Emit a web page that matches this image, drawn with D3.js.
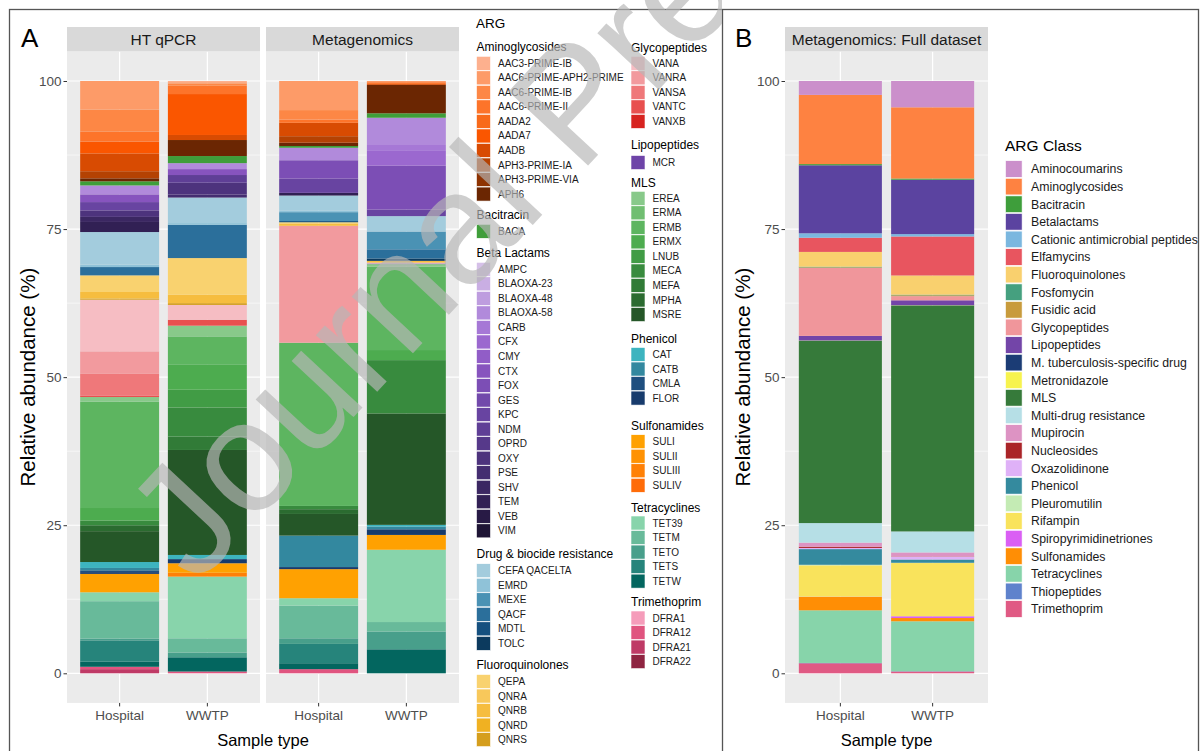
<!DOCTYPE html>
<html>
<head>
<meta charset="utf-8">
<script src="https://cdn.jsdelivr.net/npm/d3@7"></script>
<style>
  body { margin: 0; background: #fff; }
  svg { display: block; font-family: "Liberation Sans", Arial, Helvetica, sans-serif; }
</style>
</head>
<body>
<svg id="chart" width="1200" height="751"></svg>
<script>
// ---------- Gene-level ARG palette (legend order = stacking order, top to bottom) ----------
const aminoglycosideGenes  = ["AAC3-PRIME-IB","AAC6-PRIME-APH2-PRIME","AAC6-PRIME-IB","AAC6-PRIME-II","AADA2","AADA7","AADB","APH3-PRIME-IA","APH3-PRIME-VIA","APH6"];
const aminoglycosideColors = ["#FDB08E","#FD9B68","#FD8745","#FD742A","#F86A1A","#FA5600","#D84B02","#B44203","#8E3302","#6B2602"];
const bacitracinGenes  = ["BACA"];
const bacitracinColors = ["#3F9E3A"];
const betaLactamGenes  = ["AMPC","BLAOXA-23","BLAOXA-48","BLAOXA-58","CARB","CFX","CMY","CTX","FOX","GES","KPC","NDM","OPRD","OXY","PSE","SHV","TEM","VEB","VIM"];
const betaLactamColors = ["#D5C0E8","#C9AEE3","#BE9DDF","#B18ADB","#A678D6","#9B68CF","#915DC7","#8754BE","#7C4EB5","#7249AB","#6844A1","#5F3F96","#56398A","#4D337D","#442D70","#3B2762","#312054","#281A45","#1E1435"];
const drugBiocideGenes  = ["CEFA QACELTA","EMRD","MEXE","QACF","MDTL","TOLC"];
const drugBiocideColors = ["#A3CCDD","#8FC2D8","#4A92B4","#2B6F9B","#15507F","#0C3A5E"];
const fluoroquinoloneGenes  = ["QEPA","QNRA","QNRB","QNRD","QNRS"];
const fluoroquinoloneColors = ["#F9D26F","#F8C85B","#F6BD3F","#F0B122","#D59E1D"];
const glycopeptideGenes  = ["VANA","VANRA","VANSA","VANTC","VANXB"];
const glycopeptideColors = ["#F6BDC3","#F29A9E","#EF787A","#E8504F","#D7231F"];
const lipopeptideGenes  = ["MCR"];
const lipopeptideColors = ["#6E44A8"];
const mlsGenes  = ["EREA","ERMA","ERMB","ERMX","LNUB","MECA","MEFA","MPHA","MSRE"];
const mlsColors = ["#88C98A","#70BE71","#5DB560","#4DAC4F","#419C45","#388B3E","#317B37","#2B6B30","#255728"];
const phenicolGenes  = ["CAT","CATB","CMLA","FLOR"];
const phenicolColors = ["#3DB4BF","#33889F","#1F4F7F","#173B6C"];
const sulfonamideGenes  = ["SULI","SULII","SULIII","SULIV"];
const sulfonamideColors = ["#FFA101","#FF9203","#FF8006","#FF6C09"];
const tetracyclineGenes  = ["TET39","TETM","TETO","TETS","TETW"];
const tetracyclineColors = ["#88D4AB","#68BA9A","#489F8B","#26847B","#03665F"];
const trimethoprimGenes  = ["DFRA1","DFRA12","DFRA21","DFRA22"];
const trimethoprimColors = ["#F59CBA","#E0547F","#BF3A66","#8F2441"];

const sampleTypes = ["Hospital","WWTP"];
const facetNames = ["HT qPCR","Metagenomics"];

// ---------- Relative abundance (%) per gene ----------
const qpcrHospital = [
  ["AAC6-PRIME-APH2-PRIME",4.8],["AAC6-PRIME-IB",3.7],["AAC6-PRIME-II",1.7],["AADA7",2.0],["AADB",3.0],
  ["APH3-PRIME-IA",1.2],["APH6",0.5],["BACA",0.7],["BLAOXA-58",1.5],["CTX",1.3],["KPC",1.4],["OXY",1.1],
  ["SHV",0.85],["TEM",1.7],["CEFA QACELTA",5.5],["EMRD",0.4],["QACF",1.4],["QEPA",2.8],["QNRB",1.1],["QNRS",0.2],
  ["VANA",8.7],["VANRA",3.8],["VANSA",3.7],["VANTC",0.2],["EREA",0.8],["ERMB",17.9],["ERMX",2.1],["MECA",0.8],
  ["MPHA",1.0],["MSRE",5.2],["CAT",1.0],["CATB",0.4],["CMLA",0.3],["FLOR",0.3],["SULI",3.1],["TET39",1.5],
  ["TETM",6.3],["TETO",0.3],["TETS",3.6],["TETW",0.85],["DFRA12",0.4],["DFRA21",0.7]
];
const qpcrWWTP = [
  ["AAC3-PRIME-IB",0.2],["AAC6-PRIME-APH2-PRIME",0.2],["AAC6-PRIME-IB",0.4],["AAC6-PRIME-II",1.4],["AADA7",6.9],
  ["AADB",0.85],["APH6",2.7],["BACA",1.2],["BLAOXA-58",1.0],["CTX",1.0],["NDM",1.3],["OXY",2.0],["PSE",0.5],
  ["CEFA QACELTA",4.3],["EMRD",0.3],["QACF",5.6],["QEPA",6.2],["QNRB",1.4],["QNRS",0.3],["VANA",2.5],["VANTC",1.0],
  ["EREA",1.8],["ERMB",4.8],["ERMX",4.2],["LNUB",3.0],["MECA",4.9],["MEFA",2.25],["MSRE",17.7],["CAT",0.7],
  ["FLOR",0.7],["SULI",1.6],["SULIII",0.65],["TET39",10.4],["TETM",2.4],["TETO",0.8],["TETW",2.4],["DFRA12",0.3]
];
const metaHospital = [
  ["AAC6-PRIME-APH2-PRIME",4.9],["AAC6-PRIME-IB",1.6],["AAC6-PRIME-II",0.55],["AADB",2.25],["APH3-PRIME-IA",1.1],
  ["APH6",0.55],["BACA",0.3],["BLAOXA-58",2.1],["FOX",3.1],["KPC",2.4],["TEM",0.45],["CEFA QACELTA",2.5],
  ["EMRD",0.3],["MEXE",1.5],["MDTL",0.2],["QEPA",0.2],["QNRB",0.4],["VANRA",19.7],["ERMB",27.5],["MECA",0.55],
  ["MPHA",0.8],["MSRE",3.65],["CATB",5.3],["FLOR",0.35],["SULI",4.9],["TET39",1.25],["TETM",5.5],["TETO",0.95],
  ["TETS",3.25],["TETW",1.0],["DFRA12",0.7]
];
const metaWWTP = [
  ["AAC6-PRIME-APH2-PRIME",0.2],["AAC6-PRIME-II",0.3],["AADB",0.15],["APH6",4.8],["BACA",0.75],["BLAOXA-58",4.6],
  ["CARB",1.0],["CFX",2.5],["FOX",7.4],["KPC",1.1],["CEFA QACELTA",2.6],["MEXE",3.0],["QACF",1.55],["TOLC",0.4],
  ["QNRB",0.3],["VANA",0.15],["MCR",0.1],["EREA",0.4],["ERMB",14.1],["ERMX",1.7],["MECA",9.0],["MSRE",18.8],
  ["CAT",0.3],["CATB",0.45],["FLOR",0.95],["SULI",2.5],["TET39",12.2],["TETM",1.6],["TETO",3.0],["TETW",4.05]
];

// ---------- Class-level data (full metagenomic dataset) ----------
const argClasses = ["Aminocoumarins","Aminoglycosides","Bacitracin","Betalactams","Cationic antimicrobial peptides",
  "Elfamycins","Fluoroquinolones","Fosfomycin","Fusidic acid","Glycopeptides","Lipopeptides",
  "M. tuberculosis-specific drug","Metronidazole","MLS","Multi-drug resistance","Mupirocin","Nucleosides",
  "Oxazolidinone","Phenicol","Pleuromutilin","Rifampin","Spiropyrimidinetriones","Sulfonamides",
  "Tetracyclines","Thiopeptides","Trimethoprim"];
const argClassColors = ["#CB8FCB","#FE8241","#3E9E3B","#5B43A0","#7BB7DF","#E8555F","#F9D06E","#45A07F","#C89B3C",
  "#F0969B","#7345A8","#1B3C75","#F7F34E","#367A3A","#B6DFE6","#DD93C3","#AA2428","#DFB1F7","#348A9E",
  "#C4EBB4","#F9E35C","#DA5FF4","#FF8E05","#87D4AA","#5F82CC","#E05A84"];
const fullHospital = [2.35,11.7,0.2,11.5,0.75,2.4,2.5,0.1,0.1,11.5,0.75,0.05,0.05,30.8,3.3,0.7,0.2,0.2,2.65,0.1,5.3,0.05,2.25,8.9,0.05,1.7];
const fullWWTP     = [4.45,12.05,0.2,9.2,0.4,6.6,3.25,0.1,0.15,0.7,0.8,0.05,0.05,38.2,3.55,0.7,0.05,0.45,0.55,0.05,9.0,0.3,0.55,8.45,0.05,0.3];

const yTicks = [0,25,50,75,100];
const yMinor = [12.5,37.5,62.5,87.5];

// ---------- Setup ----------
const svg = d3.select("#chart");
const W = 1200, H = 751;
svg.append("rect").attr("width", W).attr("height", H).attr("fill", "#fff");

const geneGroups = [
  {name:"Aminoglycosides", genes:aminoglycosideGenes, colors:aminoglycosideColors, col:0, hy:46.7, iy:63.3},
  {name:"Bacitracin", genes:bacitracinGenes, colors:bacitracinColors, col:0, hy:215, iy:231.3},
  {name:"Beta Lactams", genes:betaLactamGenes, colors:betaLactamColors, col:0, hy:252.7, iy:269.3},
  {name:"Drug & biocide resistance", genes:drugBiocideGenes, colors:drugBiocideColors, col:0, hy:553.3, iy:570.7},
  {name:"Fluoroquinolones", genes:fluoroquinoloneGenes, colors:fluoroquinoloneColors, col:0, hy:665, iy:681.5},
  {name:"Glycopeptides", genes:glycopeptideGenes, colors:glycopeptideColors, col:1, hy:47.3, iy:63.3},
  {name:"Lipopeptides", genes:lipopeptideGenes, colors:lipopeptideColors, col:1, hy:145, iy:162.5},
  {name:"MLS", genes:mlsGenes, colors:mlsColors, col:1, hy:182.7, iy:198.3},
  {name:"Phenicol", genes:phenicolGenes, colors:phenicolColors, col:1, hy:339, iy:354.5},
  {name:"Sulfonamides", genes:sulfonamideGenes, colors:sulfonamideColors, col:1, hy:426, iy:441.7},
  {name:"Tetracyclines", genes:tetracyclineGenes, colors:tetracyclineColors, col:1, hy:508, iy:523},
  {name:"Trimethoprim", genes:trimethoprimGenes, colors:trimethoprimColors, col:1, hy:602, iy:618}
];
const allGenes = geneGroups.flatMap(g => g.genes);
const geneColor = d3.scaleOrdinal().domain(allGenes).range(geneGroups.flatMap(g => g.colors));
const classColor = d3.scaleOrdinal().domain(argClasses).range(argClassColors);

// shared vertical scale
const y = d3.scaleLinear().domain([0, 100]).range([673.3, 81]);
const panelTop = y(105), panelBottom = y(-5);
const stripTop = 27;

function drawFacet(x0, x1, title, rows, keys, colorFn) {
  const g = svg.append("g");
  const x = d3.scaleBand().domain(sampleTypes).range([x0, x1]).paddingInner(0.1).paddingOuter(0.15);
  // panel background + grid
  g.append("rect").attr("x", x0).attr("y", panelTop).attr("width", x1 - x0).attr("height", panelBottom - panelTop).attr("fill", "#EBEBEB");
  g.selectAll(".minor").data(yMinor).join("line")
    .attr("x1", x0).attr("x2", x1).attr("y1", d => y(d)).attr("y2", d => y(d))
    .attr("stroke", "#fff").attr("stroke-width", 0.6);
  g.selectAll(".major").data(yTicks).join("line")
    .attr("x1", x0).attr("x2", x1).attr("y1", d => y(d)).attr("y2", d => y(d))
    .attr("stroke", "#fff").attr("stroke-width", 1.2);
  g.selectAll(".vmajor").data(sampleTypes).join("line")
    .attr("x1", d => x(d) + x.bandwidth() / 2).attr("x2", d => x(d) + x.bandwidth() / 2)
    .attr("y1", panelTop).attr("y2", panelBottom)
    .attr("stroke", "#fff").attr("stroke-width", 1.2);
  // strip
  g.append("rect").attr("x", x0).attr("y", stripTop).attr("width", x1 - x0).attr("height", panelTop - stripTop).attr("fill", "#D9D9D9");
  g.append("text").attr("x", (x0 + x1) / 2).attr("y", (stripTop + panelTop) / 2).attr("dy", "0.36em")
    .attr("text-anchor", "middle").attr("font-size", 15.5).attr("fill", "#1A1A1A").text(title);
  // stacked bars, first key drawn on top
  const stack = d3.stack().keys(keys.slice().reverse()).value((d, k) => d[k] || 0).offset(d3.stackOffsetExpand);
  const series = stack(rows);
  const sg = g.append("g");
  series.forEach(s => {
    sg.selectAll(null).data(s.filter(d => d[1] - d[0] > 0)).join("rect")
      .attr("x", d => x(d.data.sample))
      .attr("width", x.bandwidth())
      .attr("y", d => y(d[1] * 100))
      .attr("height", d => y(d[0] * 100) - y(d[1] * 100))
      .attr("fill", colorFn(s.key));
  });
  // x axis
  const xa = g.append("g").attr("transform", `translate(0,${panelBottom})`)
    .call(d3.axisBottom(x).tickSize(3.5).tickPadding(4));
  xa.select(".domain").remove();
  xa.selectAll("line").attr("stroke", "#333");
  xa.selectAll("text").attr("font-size", 13.5).attr("fill", "#4D4D4D").attr("font-family", null);
  return x;
}

function drawYAxis(xPos, titleX) {
  const ya = svg.append("g").attr("transform", `translate(${xPos},0)`)
    .call(d3.axisLeft(y).tickValues(yTicks).tickSize(3.5).tickPadding(2));
  ya.select(".domain").remove();
  ya.selectAll("line").attr("stroke", "#333");
  ya.selectAll("text").attr("font-size", 13.5).attr("fill", "#4D4D4D").attr("font-family", null);
  svg.append("text").attr("transform", `translate(${titleX},${(panelTop + panelBottom) / 2}) rotate(-90)`)
    .attr("text-anchor", "middle").attr("dy", "0.36em").attr("font-size", 20.5).attr("fill", "#000")
    .text("Relative abundance (%)");
}

function rowsFromPairs(pairsList) {
  return pairsList.map((pairs, i) => Object.assign({sample: sampleTypes[i]}, Object.fromEntries(pairs)));
}

// ---------- Panel A ----------
drawFacet(67, 260, facetNames[0], rowsFromPairs([qpcrHospital, qpcrWWTP]), allGenes, geneColor);
drawFacet(266, 459, facetNames[1], rowsFromPairs([metaHospital, metaWWTP]), allGenes, geneColor);
drawYAxis(67, 28);
svg.append("text").attr("x", 263).attr("y", 746).attr("text-anchor", "middle").attr("font-size", 16.5).text("Sample type");

// gene legend
const legA = svg.append("g");
legA.append("text").attr("x", 476).attr("y", 28).attr("font-size", 13.5).attr("fill", "#000").text("ARG");
const colX = [476.5, 631], step = 14.53;
geneGroups.forEach(grp => {
  const kx = colX[grp.col];
  legA.append("text").attr("x", kx).attr("y", grp.hy).attr("dy", "0.36em").attr("font-size", 12).attr("fill", "#000").text(grp.name);
  const items = legA.selectAll(null).data(grp.genes).join("g")
    .attr("transform", (d, i) => `translate(${kx},${grp.iy + i * step})`);
  items.append("rect").attr("x", 0).attr("y", -7).attr("width", 14).attr("height", 14)
    .attr("fill", d => geneColor(d)).attr("stroke", "#fff").attr("stroke-width", 0.6);
  items.append("text").attr("x", 21.5).attr("dy", "0.35em").attr("font-size", 10).attr("fill", "#1A1A1A").text(d => d);
});

// ---------- Panel B ----------
const fullRows = [fullHospital, fullWWTP].map((vals, i) =>
  Object.assign({sample: sampleTypes[i]}, Object.fromEntries(argClasses.map((c, j) => [c, vals[j]]))));
drawFacet(785, 988, "Metagenomics: Full dataset", fullRows, argClasses, classColor);
drawYAxis(785, 743);
svg.append("text").attr("x", 886.5).attr("y", 746).attr("text-anchor", "middle").attr("font-size", 16.5).text("Sample type");

const legB = svg.append("g");
legB.append("text").attr("x", 1005).attr("y", 145).attr("dy", "0.36em").attr("font-size", 15.5).attr("fill", "#000").text("ARG Class");
const itB = legB.selectAll(null).data(argClasses).join("g")
  .attr("transform", (d, i) => `translate(1005.5,${169 + i * 17.6})`);
itB.append("rect").attr("x", 0).attr("y", -8.3).attr("width", 16.6).attr("height", 16.6)
  .attr("fill", d => classColor(d)).attr("stroke", "#fff").attr("stroke-width", 0.6);
itB.append("text").attr("x", 25.5).attr("dy", "0.35em").attr("font-size", 12.3).attr("fill", "#1A1A1A").text(d => d);

// ---------- Panel labels and frame ----------
svg.append("text").attr("x", 21).attr("y", 47).attr("font-size", 26).text("A");
svg.append("text").attr("x", 735).attr("y", 47).attr("font-size", 26).text("B");
svg.append("rect").attr("x", 9.5).attr("y", 9.5).attr("width", 1189).attr("height", 800)
  .attr("fill", "none").attr("stroke", "#555").attr("stroke-width", 1.3);
svg.append("line").attr("x1", 722.5).attr("x2", 722.5).attr("y1", 9.5).attr("y2", H)
  .attr("stroke", "#555").attr("stroke-width", 1.3);

// ---------- Pre-proof watermark over panel A ----------
svg.append("clipPath").attr("id", "wmclip").append("rect").attr("x", 0).attr("y", 0).attr("width", 722).attr("height", H);
svg.append("g").attr("clip-path", "url(#wmclip)")
  .append("text").attr("transform", "translate(196,586) rotate(-47)")
  .attr("font-size", 158).attr("fill", "#B7B7B7").attr("opacity", 0.67)
  .text("Journal Pre-proof");
</script>
</body>
</html>
